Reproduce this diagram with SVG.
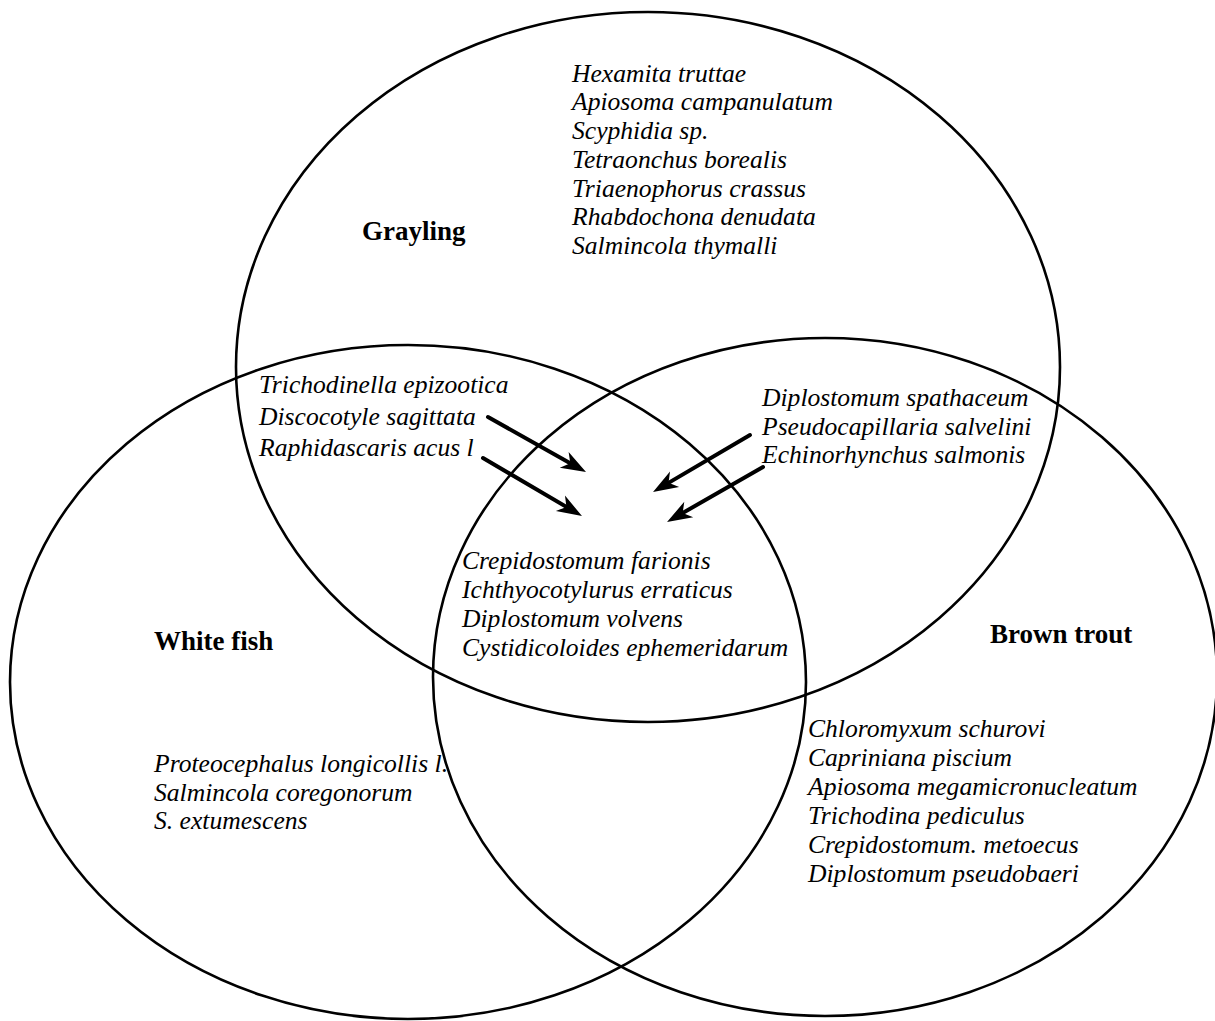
<svg xmlns="http://www.w3.org/2000/svg" width="1215" height="1021" viewBox="0 0 1215 1021">
<style>
.set{fill:none;stroke:#000;stroke-width:2.6}
.sp{font-family:"Liberation Serif","Times New Roman",serif;font-style:italic;font-size:25.6px;fill:#000}
.lbl{font-family:"Liberation Serif","Times New Roman",serif;font-weight:bold;font-size:27px;fill:#000}
.arr{stroke:#000;stroke-width:4;stroke-linecap:round;fill:none;marker-end:url(#ah)}
</style>
<defs>
<marker id="ah" markerUnits="userSpaceOnUse" viewBox="-12 -10 28 20" markerWidth="28" markerHeight="20" refX="0" refY="0" orient="auto" overflow="visible">
<path d="M14,0 L-11,-9 L-4,0 L-11,9 Z" fill="#000"/>
</marker>
</defs>
<rect width="1215" height="1021" fill="#fff"/>
<g id="grayling">
<ellipse class="set" cx="648" cy="367" rx="412" ry="355"/>
<text class="lbl" x="362" y="240">Grayling</text>
<text class="sp" x="572" y="81.5">Hexamita truttae</text>
<text class="sp" x="572" y="110.3">Apiosoma campanulatum</text>
<text class="sp" x="572" y="139">Scyphidia sp.</text>
<text class="sp" x="572" y="167.8">Tetraonchus borealis</text>
<text class="sp" x="572" y="196.5">Triaenophorus crassus</text>
<text class="sp" x="572" y="225.3">Rhabdochona denudata</text>
<text class="sp" x="572" y="254">Salmincola thymalli</text>
</g>
<g id="whitefish">
<ellipse class="set" cx="408" cy="682" rx="398" ry="337"/>
<text class="lbl" x="154" y="650">White fish</text>
<text class="sp" x="154" y="772">Proteocephalus longicollis l.</text>
<text class="sp" x="154" y="800.5">Salmincola coregonorum</text>
<text class="sp" x="154" y="829">S. extumescens</text>
</g>
<g id="browntrout">
<ellipse class="set" cx="825" cy="677" rx="392" ry="339"/>
<text class="lbl" x="990" y="643">Brown trout</text>
<text class="sp" x="808" y="737">Chloromyxum schurovi</text>
<text class="sp" x="808" y="766">Capriniana piscium</text>
<text class="sp" x="808" y="795">Apiosoma megamicronucleatum</text>
<text class="sp" x="808" y="824">Trichodina pediculus</text>
<text class="sp" x="808" y="853">Crepidostomum. metoecus</text>
<text class="sp" x="808" y="882">Diplostomum pseudobaeri</text>
</g>
<g id="grayling-whitefish">
<text class="sp" x="259" y="393">Trichodinella epizootica</text>
<text class="sp" x="259" y="424.5">Discocotyle sagittata</text>
<text class="sp" x="259" y="456">Raphidascaris acus l</text>
</g>
<g id="grayling-browntrout">
<text class="sp" x="762" y="406">Diplostomum spathaceum</text>
<text class="sp" x="762" y="434.5">Pseudocapillaria salvelini</text>
<text class="sp" x="762" y="463">Echinorhynchus salmonis</text>
</g>
<g id="all-three">
<text class="sp" x="462" y="569">Crepidostomum farionis</text>
<text class="sp" x="462" y="598">Ichthyocotylurus erraticus</text>
<text class="sp" x="462" y="627">Diplostomum volvens</text>
<text class="sp" x="462" y="655.5">Cystidicoloides ephemeridarum</text>
</g>
<g id="connectors">
<line class="arr" x1="488" y1="417" x2="573.8" y2="465.2"/>
<line class="arr" x1="483" y1="458" x2="569.9" y2="508.9"/>
<line class="arr" x1="750" y1="435" x2="665.1" y2="484.9"/>
<line class="arr" x1="763" y1="467" x2="679.2" y2="515"/>
</g>
</svg>
